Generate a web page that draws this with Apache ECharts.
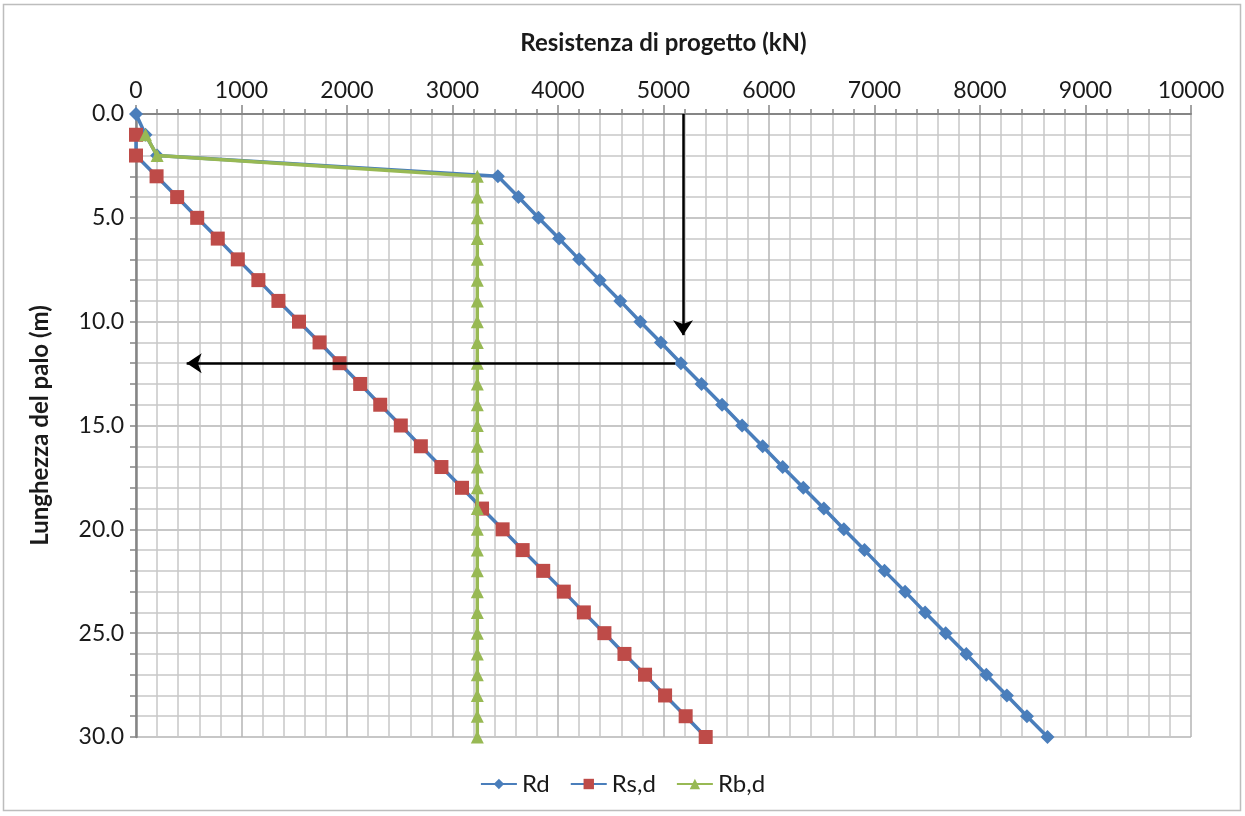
<!DOCTYPE html>
<html>
<head>
<meta charset="utf-8">
<script src="https://cdn.jsdelivr.net/npm/echarts@6/dist/echarts.min.js"></script>
<style>html,body{margin:0;padding:0;background:#fff}#c{width:1245px;height:816px}</style>
</head>
<body>
<div id="c"></div>
<script>
// Depth (m)
const depths = [0,1,2,3,4,5,6,7,8,9,10,11,12,13,14,15,16,17,18,19,20,21,22,23,24,25,26,27,28,29,30];
// Rd (kN)
const rd  = [0,90,200,3430,3625,3815,4010,4200,4395,4590,4780,4975,5165,5360,5555,5745,5940,6130,6325,6520,6710,6905,7095,7290,7480,7675,7870,8060,8255,8445,8640];
// Rs,d (kN)
const rsd = [null,0,0,195,390,580,775,965,1160,1350,1545,1740,1930,2125,2315,2510,2700,2895,3090,3280,3475,3665,3860,4055,4245,4440,4630,4825,5015,5210,5400];
// Rb,d (kN)
const rbd = [null,90,200,3235,3235,3235,3235,3235,3235,3235,3235,3235,3235,3235,3235,3235,3235,3235,3235,3235,3235,3235,3235,3235,3235,3235,3235,3235,3235,3235,3235];
const seriesNames = ['Rd','Rs,d','Rb,d'];
// Annotation arrows [from, to] as [kN, m]
const arrowDown = [[5185,0],[5185,10.65]];
const arrowLeft = [[5110,12],[480,12]];

function pairs(vals){ const out=[]; vals.forEach((v,i)=>{ if(v!==null) out.push([v,depths[i]]); }); return out; }

const FONT = 'Lato';
const TXT = '#1a1a1a';
const chart = echarts.init(document.getElementById('c'), null, {renderer:'canvas'});
chart.setOption({
  animation:false,
  backgroundColor:'#fff',
  textStyle:{fontFamily:FONT},
  graphic:[{type:'rect',shape:{x:3.5,y:4.5,width:1237,height:806},style:{fill:'none',stroke:'#BDBDBD',lineWidth:1.5},silent:true}],
  grid:{left:136,top:114,right:54,bottom:79,containLabel:false},
  legend:{
    data:seriesNames, left:'center', top:767, itemWidth:36, itemHeight:13, itemGap:20,
    textStyle:{fontFamily:FONT,fontSize:24,color:TXT}
  },
  xAxis:{
    type:'value', position:'top', min:0, max:10000, interval:1000,
    name:'Resistenza di progetto (kN)', nameLocation:'middle', nameGap:59,
    nameTextStyle:{fontFamily:FONT,fontSize:24,fontWeight:'bold',color:TXT},
    axisLine:{show:true,onZero:false,lineStyle:{color:'#858585',width:2}},
    axisTick:{show:true,length:9,lineStyle:{color:'#858585',width:1.5}},
    minorTick:{show:true,splitNumber:5,length:5,lineStyle:{color:'#858585',width:1.5}},
    axisLabel:{fontFamily:FONT,fontSize:23,color:TXT,margin:12,formatter:v=>String(v)},
    splitLine:{show:true,lineStyle:{color:'#B4B4B4',width:1.5}},
    minorSplitLine:{show:true,lineStyle:{color:'#C8C8C8',width:1.5}}
  },
  yAxis:{
    type:'value', inverse:true, min:0, max:30, interval:5,
    name:'Lunghezza del palo (m)', nameLocation:'middle', nameGap:84, nameRotate:90,
    nameTextStyle:{fontFamily:FONT,fontSize:24,fontWeight:'bold',color:TXT},
    axisLine:{show:true,onZero:false,lineStyle:{color:'#858585',width:2.5}},
    axisTick:{show:true,length:6,lineStyle:{color:'#858585',width:1.5}},
    minorTick:{show:true,splitNumber:5,length:6,lineStyle:{color:'#858585',width:1.5}},
    axisLabel:{fontFamily:FONT,fontSize:23,color:TXT,margin:12,formatter:v=>v.toFixed(1)},
    splitLine:{show:true,lineStyle:{color:'#B4B4B4',width:1.5}},
    minorSplitLine:{show:true,lineStyle:{color:'#C8C8C8',width:1.5}}
  },
  series:[
    {name:'Rd',type:'line',data:pairs(rd),symbol:'diamond',symbolSize:14,
     itemStyle:{color:'#4A7EBB'},lineStyle:{color:'#4A7EBB',width:3.5},z:2},
    {name:'Rs,d',type:'line',data:pairs(rsd),symbol:'rect',symbolSize:14,
     itemStyle:{color:'#BE4B48'},lineStyle:{color:'#4A7EBB',width:3.5},z:3},
    {name:'Rb,d',type:'line',data:pairs(rbd),symbol:'triangle',symbolSize:13,
     itemStyle:{color:'#98B954'},lineStyle:{color:'#98B954',width:3.5},z:4},
    {name:'arrows',type:'line',data:[],z:5,
     markLine:{silent:true,symbol:['none','arrow'],symbolSize:15,label:{show:false},
       lineStyle:{color:'#000',width:2.5,type:'solid'},
       data:[
         [{coord:arrowDown[0]},{coord:arrowDown[1]}],
         [{coord:arrowLeft[0]},{coord:arrowLeft[1]}]
       ]}}
  ]
});
</script>
</body>
</html>
